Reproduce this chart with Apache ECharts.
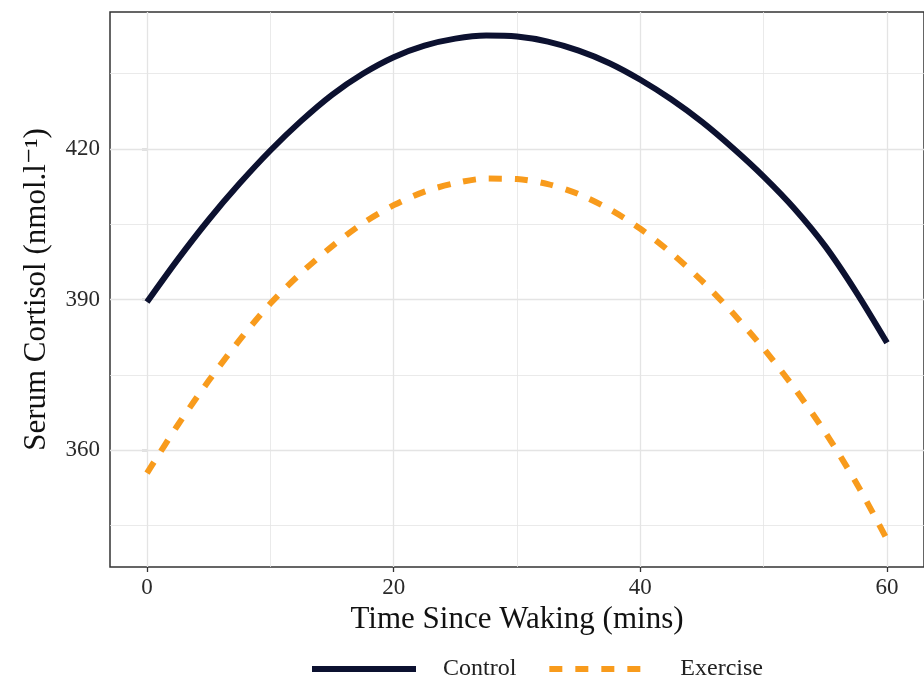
<!DOCTYPE html>
<html>
<head>
<meta charset="utf-8">
<script src="https://cdn.jsdelivr.net/npm/echarts@6/dist/echarts.min.js"></script>
<style>
  html, body { margin: 0; padding: 0; background: #fff; }
  #chart { width: 924px; height: 684px; }
</style>
</head>
<body>
<div id="chart"></div>
<script>
// minutes since waking
var timePoints = [0, 2.5, 5, 7.5, 10, 12.5, 15, 17.5, 20, 22.5, 25, 27.5, 30,
  32.5, 35, 37.5, 40, 42.5, 45, 47.5, 50, 52.5, 55, 57.5, 60];
// serum cortisol
var control = [389.5, 398.0, 405.9, 413.1, 419.7, 425.6, 430.8, 435.0, 438.3, 440.6, 442.0, 442.6, 442.4,
  441.4, 439.6, 437.1, 433.8, 429.9, 425.4, 420.2, 414.5, 408.1, 400.6, 391.5, 381.4];
var exercise = [355.4, 365.0, 373.8, 381.9, 389.2, 395.3, 400.6, 405.2, 408.8, 411.5, 413.2, 414.1, 414.0,
  413.0, 411.0, 408.0, 404.1, 399.3, 393.7, 387.3, 380.2, 372.3, 363.5, 353.5, 342.2];

var xTicks = [0, 20, 40, 60];
var yTicks = [360, 390, 420];
var gridX = [0, 10, 20, 30, 40, 50, 60];
var gridY = [345, 360, 375, 390, 405, 420, 435];

var serif = "'Liberation Serif', 'DejaVu Serif', serif";

function pairs(ys) {
  return timePoints.map(function (t, i) { return [t, ys[i]]; });
}

var gridLines = [];
gridX.forEach(function (v) {
  gridLines.push({ xAxis: v, lineStyle: { width: v % 20 === 0 ? 1.3 : 0.8 } });
});
gridY.forEach(function (v) {
  gridLines.push({ yAxis: v, lineStyle: { width: v % 30 === 0 ? 1.3 : 0.8 } });
});

var chart = echarts.init(document.getElementById("chart"));
chart.setOption({
  animation: false,
  backgroundColor: "#fff",
  grid: {
    left: 110,
    right: -6,
    top: 12,
    bottom: 117,
    show: true,
    borderColor: "#333",
    borderWidth: 1.5,
    backgroundColor: "transparent"
  },
  legend: {
    left: 304,
    top: 652,
    itemWidth: 104,
    itemHeight: 14,
    itemGap: 30,
    data: ["Control", "Exercise"],
    itemStyle: { opacity: 0, borderWidth: 0 },
    lineStyle: { width: 6 },
    textStyle: {
      fontFamily: serif,
      fontSize: 24,
      color: "#222",
      padding: [0, 0, 0, 22]
    }
  },
  xAxis: {
    type: "value",
    min: -3,
    max: 63,
    name: "Time Since Waking (mins)",
    nameLocation: "middle",
    nameGap: 25,
    nameTextStyle: { fontFamily: serif, fontSize: 31, color: "#111" },
    axisLine: { show: false },
    axisTick: {
      show: true,
      length: 5,
      customValues: xTicks,
      lineStyle: { color: "#333", width: 1.3 }
    },
    axisLabel: {
      customValues: xTicks,
      margin: 9,
      fontFamily: serif,
      fontSize: 23,
      color: "#2a2a2a"
    },
    splitLine: { show: false }
  },
  yAxis: {
    type: "value",
    min: 336.7,
    max: 447.3,
    name: "Serum Cortisol (nmol.l\u207B\u00B9)",
    nameLocation: "middle",
    nameGap: 58,
    nameTextStyle: { fontFamily: serif, fontSize: 31, color: "#111" },
    axisLine: { show: false },
    axisTick: {
      show: true,
      length: 5,
      customValues: yTicks,
      lineStyle: { color: "#333", width: 1.3 }
    },
    axisLabel: {
      customValues: yTicks,
      margin: 10,
      fontFamily: serif,
      fontSize: 23,
      color: "#2a2a2a"
    },
    splitLine: { show: false }
  },
  series: [
    {
      name: "grid",
      type: "line",
      data: [],
      silent: true,
      z: 1,
      markLine: {
        silent: true,
        z: 1,
        symbol: ["none", "none"],
        label: { show: false },
        lineStyle: { color: "#e4e4e4", type: "solid" },
        emphasis: { disabled: true },
        data: gridLines
      }
    },
    {
      name: "Control",
      type: "line",
      z: 3,
      smooth: 0.3,
      symbol: "none",
      data: pairs(control),
      lineStyle: { color: "#0c1130", width: 6, cap: "butt" },
      itemStyle: { color: "#0c1130" }
    },
    {
      name: "Exercise",
      type: "line",
      z: 3,
      smooth: 0.3,
      symbol: "none",
      data: pairs(exercise),
      lineStyle: { color: "#f89b1c", width: 6, type: [13, 13], cap: "butt" },
      itemStyle: { color: "#f89b1c" }
    }
  ]
});
</script>
</body>
</html>
